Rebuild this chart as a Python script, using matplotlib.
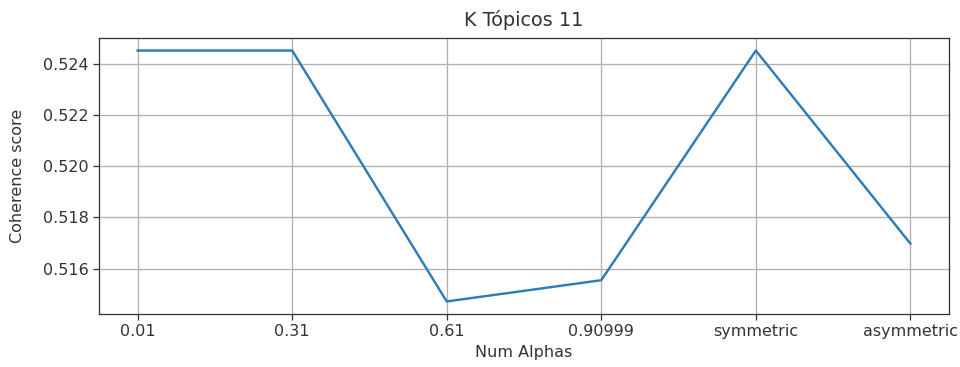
import matplotlib
matplotlib.use("Agg")
import matplotlib.pyplot as plt

alphas = ["0.01", "0.31", "0.61", "0.90999", "symmetric", "asymmetric"]
coherence = [0.52452, 0.52452, 0.51472, 0.51555, 0.52452, 0.51698]

scale = 1.156
ink = "#333333"
plt.rcParams.update({
    "font.size": 10 * scale,
    "text.color": ink,
    "axes.labelcolor": ink,
    "axes.edgecolor": ink,
    "xtick.color": ink,
    "ytick.color": ink,
    "axes.linewidth": 0.8 * scale,
    "xtick.major.size": 3.5 * scale,
    "ytick.major.size": 3.5 * scale,
    "xtick.major.width": 0.8 * scale,
    "ytick.major.width": 0.8 * scale,
})

fig = plt.figure(figsize=(9.6, 3.67), dpi=100)
ax = fig.add_axes([99 / 960, 1 - 314 / 367, 850 / 960, 276 / 367])
ax.plot(range(len(alphas)), coherence, color="#2a7db8", lw=1.5 * scale)
ax.set_xticks(range(len(alphas)))
ax.set_xticklabels(alphas)
ax.set_yticks([0.516, 0.518, 0.520, 0.522, 0.524])
ax.set_yticklabels(["0.516", "0.518", "0.520", "0.522", "0.524"])
ax.grid(True, color="#b0b0b0", lw=0.8 * scale)
ax.set_title("K Tópicos 11", pad=9)
ax.set_xlabel("Num Alphas")
ax.set_ylabel("Coherence score")
ax.yaxis.set_label_coords(-0.087, 0.5)
fig.savefig("out.png", dpi=100)
